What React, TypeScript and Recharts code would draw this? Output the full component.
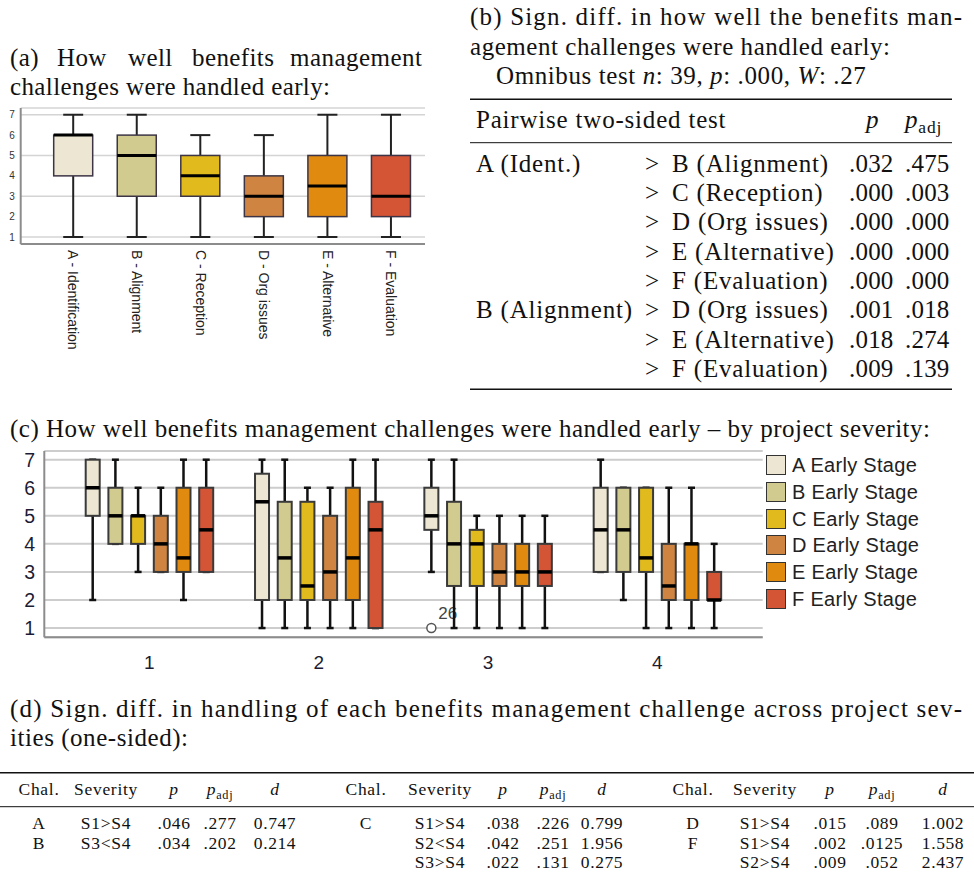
import React from "react";
import { BarChart, Bar, XAxis, YAxis, CartesianGrid, Cell } from "recharts";

const SANS = "'Liberation Sans', Arial, sans-serif";
const SERIF = "'Liberation Serif', 'Times New Roman', serif";

// challenges
const challengeKeys = ["A", "B", "C", "D", "E", "F"];
const challengeLabels = [
  "A - Identification",
  "B - Alignment",
  "C - Reception",
  "D - Org issues",
  "E - Alternative",
  "F - Evaluation",
];
const challengeColors = ["#ece6d2", "#d2cb8f", "#e1bb1d", "#cf8541", "#e18a10", "#d45436"];

// (a) overall box plot
const overallMin = [1, 1, 1, 1, 1, 1];
const overallQ1 = [4, 3, 3, 2, 2, 2];
const overallMedian = [6, 5, 4, 3, 3.5, 3];
const overallQ3 = [6, 6, 5, 4, 5, 5];
const overallMax = [7, 7, 6, 6, 7, 7];

// (c) by severity, [min, q1, median, q3, max] for severity 1..4
const severityLabels = ["1", "2", "3", "4"];
const sevStatsA = [[2, 5, 6, 7, 7], [1, 2, 5.5, 6.5, 7], [3, 4.5, 5, 6, 7], [3, 3, 4.5, 6, 7]];
const sevStatsB = [[4, 4, 5, 6, 7], [1, 2, 3.5, 5.5, 7], [1, 2.5, 4, 5.5, 7], [2, 3, 4.5, 6, 6]];
const sevStatsC = [[3, 4, 5, 5, 6], [1, 2, 2.5, 5.5, 6], [1, 2.5, 4, 4.5, 5], [1, 3, 3.5, 6, 6]];
const sevStatsD = [[3, 3, 4, 5, 6], [1, 2, 3, 5, 6], [1, 2.5, 3, 4, 5], [1, 2, 2.5, 4, 6]];
const sevStatsE = [[2, 3, 3.5, 6, 7], [1, 2, 3.5, 6, 7], [1, 2.5, 3, 4, 5], [1, 2, 4, 4, 6]];
const sevStatsF = [[3, 3, 4.5, 6, 7], [1, 1, 4.5, 5.5, 7], [1, 2.5, 3, 4, 5], [1, 2, 2, 3, 4]];
const outlierSeries = "A";
const outlierSeverity = "3";
const outlierValue = 1;
const outlierLabel = "26";

// (b) pairwise tests
const pairFrom = ["A (Ident.)", "", "", "", "", "B (Alignment)", "", ""];
const pairTo = [
  "B (Alignment)",
  "C (Reception)",
  "D (Org issues)",
  "E (Alternative)",
  "F (Evaluation)",
  "D (Org issues)",
  "E (Alternative)",
  "F (Evaluation)",
];
const pairP = [".032", ".000", ".000", ".000", ".000", ".001", ".018", ".009"];
const pairPadj = [".475", ".003", ".000", ".000", ".000", ".018", ".274", ".139"];

// (d) severity tests, three column groups
const sevChal = [["A", "B"], ["C", "", ""], ["D", "F", ""]];
const sevPair = [["S1>S4", "S3<S4"], ["S1>S4", "S2<S4", "S3>S4"], ["S1>S4", "S1>S4", "S2>S4"]];
const sevP = [[".046", ".034"], [".038", ".042", ".022"], [".015", ".002", ".009"]];
const sevPadj = [[".277", ".202"], [".226", ".251", ".131"], [".089", ".0125", ".052"]];
const sevD = [["0.747", "0.214"], ["0.799", "1.956", "0.275"], ["1.002", "1.558", "2.437"]];

const overallData = challengeLabels.map((name, i) => ({
  name,
  range: [overallMin[i], overallMax[i]],
  stats: [overallMin[i], overallQ1[i], overallMedian[i], overallQ3[i], overallMax[i]],
}));

const sevStats = [sevStatsA, sevStatsB, sevStatsC, sevStatsD, sevStatsE, sevStatsF];
const severityData = severityLabels.map((sev, j) => {
  const row: any = { sev };
  challengeKeys.forEach((k, i) => {
    const s = sevStats[i][j];
    row[k] = [s[0], s[4]];
    row[k + "Stats"] = s;
    row[k + "Out"] =
      k === outlierSeries && sev === outlierSeverity ? [{ value: outlierValue, label: outlierLabel }] : [];
  });
  return row;
});

const lookA = { capW: 20, whiskerW: 2, medianW: 3, boxStroke: "#3d3545", boxW: 1.5, whisker: "#222" };
const lookC = { capW: 7, whiskerW: 2.5, medianW: 3.5, boxStroke: "#3a3a3a", boxW: 2, whisker: "#111" };

function BoxShape(props: any) {
  const { x, y, width, height, fill, stats, look, outliers } = props;
  if (!stats) return null;
  const [lo, q1, med, q3, hi] = stats;
  const top = Math.min(y, y + height);
  const span = Math.abs(height);
  const py = (v: number) => top + ((hi - v) / (hi - lo)) * span;
  const cx = x + width / 2;
  const half = look.capW / 2;
  const ws = { stroke: look.whisker, strokeWidth: look.whiskerW };
  return (
    <g>
      <line x1={cx} x2={cx} y1={py(q3)} y2={py(hi)} {...ws} />
      <line x1={cx} x2={cx} y1={py(q1)} y2={py(lo)} {...ws} />
      <line x1={cx - half} x2={cx + half} y1={py(hi)} y2={py(hi)} {...ws} />
      <line x1={cx - half} x2={cx + half} y1={py(lo)} y2={py(lo)} {...ws} />
      <rect
        x={x}
        y={py(q3)}
        width={width}
        height={py(q1) - py(q3)}
        fill={fill}
        stroke={look.boxStroke}
        strokeWidth={look.boxW}
      />
      <line x1={x} x2={x + width} y1={py(med)} y2={py(med)} stroke="#000" strokeWidth={look.medianW} />
      {(outliers || []).map((o: any, i: number) => (
        <g key={i}>
          <circle cx={cx} cy={py(o.value)} r={4.5} fill="#fff" stroke="#555" strokeWidth={1.5} />
          <text x={cx + 7} y={py(o.value) - 9} fontSize={17} fontFamily={SANS} fill="#444">
            {o.label}
          </text>
        </g>
      ))}
    </g>
  );
}

function RotatedTick({ x, y, payload }: any) {
  return (
    <text
      x={x}
      y={y}
      transform={`rotate(90, ${x}, ${y})`}
      fontSize={14}
      fontFamily={SANS}
      fill="#222"
      dominantBaseline="central"
    >
      {payload.value}
    </text>
  );
}

const FS = 25;

function Line({ x, y, w, size = FS, children }: any) {
  return (
    <text x={x} y={y} fontSize={size} fontFamily={SERIF} fill="#111" textLength={w} lengthAdjust="spacing">
      {children}
    </text>
  );
}

function Cellt({ x, y, size = FS, ls = 0.8, anchor = "start", children }: any) {
  return (
    <text x={x} y={y} fontSize={size} fontFamily={SERIF} fill="#111" letterSpacing={ls} textAnchor={anchor}>
      {children}
    </text>
  );
}

const Padj = ({ size }: any) => (
  <>
    <tspan fontStyle="italic">p</tspan>
    <tspan fontSize={size * 0.7} dy={size * 0.2}>
      adj
    </tspan>
  </>
);

const DS = 17.5;
const rowsB = [171.7, 201, 230.3, 259.6, 288.9, 318.2, 347.5, 376.8];
const rowsD = [829, 848.5, 868];
const colsD = [
  { chal: 39, sev: 106, p: 174, padj: 220, d: 275 },
  { chal: 366, sev: 440, p: 503, padj: 553, d: 602 },
  { chal: 693, sev: 765, p: 830, padj: 882, d: 943 },
];

export default function App() {
  return (
    <div
      style={{
        position: "absolute",
        left: 0,
        top: 0,
        width: 974,
        height: 881,
        background: "#fff",
        overflow: "hidden",
      }}
    >
      {/* (a) */}
      <div style={{ position: "absolute", left: 0, top: 100 }}>
        <BarChart width={440} height={260} data={overallData} margin={{ top: 8, right: 15, left: 0, bottom: 0 }}>
          <CartesianGrid vertical={false} stroke="#d4d4d4" strokeWidth={1.5} />
          <XAxis
            dataKey="name"
            height={116}
            padding={{ left: 21, right: 2 }}
            tick={<RotatedTick />}
            tickLine={false}
            tickMargin={0}
            interval={0}
            axisLine={{ stroke: "#8c8c8c", strokeWidth: 2 }}
          />
          <YAxis
            type="number"
            domain={[0.657, 7.33]}
            ticks={[1, 2, 3, 4, 5, 6, 7]}
            width={20.7}
            tickLine={false}
            tickMargin={0}
            axisLine={{ stroke: "#8c8c8c", strokeWidth: 2 }}
            tick={{ fontSize: 10, fill: "#333", fontFamily: SANS }}
          />
          <Bar
            dataKey="range"
            barSize={39}
            isAnimationActive={false}
            shape={(p: any) => <BoxShape {...p} stats={p.payload.stats} look={lookA} />}
          >
            {overallData.map((_, i) => (
              <Cell key={i} fill={challengeColors[i]} />
            ))}
          </Bar>
        </BarChart>
      </div>

      {/* (c) */}
      <div style={{ position: "absolute", left: 0, top: 440 }}>
        <BarChart
          width={974}
          height={240}
          data={severityData}
          margin={{ top: 11, right: 211.3, left: 0, bottom: 0 }}
          barGap={8.7}
        >
          <CartesianGrid vertical={false} stroke="#cdcdcd" strokeWidth={2} />
          <XAxis
            dataKey="sev"
            height={42.7}
            padding={{ left: 20.4, right: 20.7 }}
            tickLine={false}
            tickMargin={12}
            tick={{ fontSize: 19, fill: "#1c1c34", fontFamily: SANS }}
            axisLine={{ stroke: "#8c8c8c", strokeWidth: 2 }}
          />
          <YAxis
            type="number"
            domain={[0.67, 7.31]}
            ticks={[1, 2, 3, 4, 5, 6, 7]}
            width={44.3}
            tickLine={false}
            tickMargin={3.3}
            axisLine={{ stroke: "#8c8c8c", strokeWidth: 2 }}
            tick={{ fontSize: 19.5, fill: "#1c1c34", fontFamily: SANS }}
          />
          {challengeKeys.map((k, i) => (
            <Bar
              key={k}
              dataKey={k}
              fill={challengeColors[i]}
              barSize={14}
              isAnimationActive={false}
              shape={(p: any) => (
                <BoxShape {...p} stats={p.payload[k + "Stats"]} outliers={p.payload[k + "Out"]} look={lookC} />
              )}
            />
          ))}
        </BarChart>
      </div>

      {/* (c) legend */}
      {challengeKeys.map((k, i) => (
        <div key={k}>
          <div
            style={{
              position: "absolute",
              left: 766,
              top: 465 + 26.8 * i - 10,
              width: 20,
              height: 20,
              boxSizing: "border-box",
              border: "1.5px solid #333",
              background: challengeColors[i],
            }}
          />
          <div
            style={{
              position: "absolute",
              left: 792,
              top: 465 + 26.8 * i - 12,
              height: 24,
              lineHeight: "24px",
              fontSize: 20,
              fontFamily: SANS,
              color: "#222",
              letterSpacing: 0.3,
              whiteSpace: "nowrap",
            }}
          >
            {k} Early Stage
          </div>
        </div>
      ))}

      {/* text */}
      <svg width={974} height={881} style={{ position: "absolute", left: 0, top: 0, pointerEvents: "none" }}>
        <Cellt x={10} y={66} ls={0.4}>(a)</Cellt>
        <Cellt x={57} y={66} ls={0.4}>How</Cellt>
        <Cellt x={128} y={66} ls={0.4}>well</Cellt>
        <Cellt x={192} y={66} ls={0.4}>benefits</Cellt>
        <Line x={290} y={66} w={132}>management</Line>
        <Line x={10} y={95.3} w={320}>challenges were handled early:</Line>

        <Line x={470} y={25} w={492}>(b) Sign. diff. in how well the benefits man-</Line>
        <Line x={470} y={55} w={420}>agement challenges were handled early:</Line>
        <Cellt x={496} y={84} ls={0.6}>
          Omnibus test <tspan fontStyle="italic">n</tspan>: 39, <tspan fontStyle="italic">p</tspan>: .000,{" "}
          <tspan fontStyle="italic">W</tspan>: .27
        </Cellt>
        <line x1={470} x2={952} y1={99.3} y2={99.3} stroke="#111" strokeWidth={1.6} />
        <Cellt x={476} y={128.3}>Pairwise two-sided test</Cellt>
        <Cellt x={866} y={128.3}>
          <tspan fontStyle="italic">p</tspan>
        </Cellt>
        <Cellt x={905} y={128.3}>
          <Padj size={FS} />
        </Cellt>
        <line x1={470} x2={952} y1={142.7} y2={142.7} stroke="#111" strokeWidth={1} />
        {rowsB.map((y, i) => (
          <g key={i}>
            {pairFrom[i] && <Cellt x={476} y={y}>{pairFrom[i]}</Cellt>}
            <Cellt x={645} y={y}>&gt;</Cellt>
            <Cellt x={672} y={y}>{pairTo[i]}</Cellt>
            <Cellt x={849} y={y} ls={0.2}>{pairP[i]}</Cellt>
            <Cellt x={905} y={y} ls={0.2}>{pairPadj[i]}</Cellt>
          </g>
        ))}
        <line x1={470} x2={952} y1={389.3} y2={389.3} stroke="#111" strokeWidth={1.6} />

        <Line x={10} y={437} w={920}>
          (c) How well benefits management challenges were handled early – by project severity:
        </Line>

        <Line x={10} y={716.7} w={952}>
          (d) Sign. diff. in handling of each benefits management challenge across project sev-
        </Line>
        <Line x={10} y={745.5} w={178}>ities (one-sided):</Line>
        <line x1={0} x2={974} y1={772.7} y2={772.7} stroke="#111" strokeWidth={1.6} />
        <line x1={0} x2={974} y1={806.7} y2={806.7} stroke="#111" strokeWidth={1} />
        {colsD.map((c, g) => (
          <g key={g}>
            <Cellt x={c.chal} y={795} size={DS} ls={0.7} anchor="middle">Chal.</Cellt>
            <Cellt x={c.sev} y={795} size={DS} ls={0.7} anchor="middle">Severity</Cellt>
            <Cellt x={c.p} y={795} size={DS} ls={0.7} anchor="middle">
              <tspan fontStyle="italic">p</tspan>
            </Cellt>
            <Cellt x={c.padj} y={795} size={DS} ls={0.7} anchor="middle">
              <Padj size={DS} />
            </Cellt>
            <Cellt x={c.d} y={795} size={DS} ls={0.7} anchor="middle">
              <tspan fontStyle="italic">d</tspan>
            </Cellt>
            {sevPair[g].map((s, r) => (
              <g key={r}>
                {sevChal[g][r] && (
                  <Cellt x={c.chal} y={rowsD[r]} size={DS} ls={0.7} anchor="middle">{sevChal[g][r]}</Cellt>
                )}
                <Cellt x={c.sev} y={rowsD[r]} size={DS} ls={0.7} anchor="middle">{s}</Cellt>
                <Cellt x={c.p} y={rowsD[r]} size={DS} ls={0.6} anchor="middle">{sevP[g][r]}</Cellt>
                <Cellt x={c.padj} y={rowsD[r]} size={DS} ls={0.6} anchor="middle">{sevPadj[g][r]}</Cellt>
                <Cellt x={c.d} y={rowsD[r]} size={DS} ls={0.6} anchor="middle">{sevD[g][r]}</Cellt>
              </g>
            ))}
          </g>
        ))}
      </svg>
    </div>
  );
}
